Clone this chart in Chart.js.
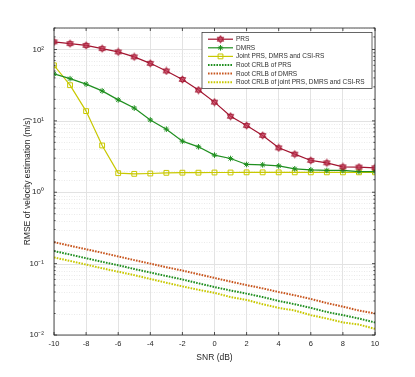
<!DOCTYPE html>
<html>
<head>
<meta charset="utf-8">
<script src="https://cdn.jsdelivr.net/npm/chart.js@4.4.1/dist/chart.umd.min.js"></script>
<style>
  html, body { margin: 0; padding: 0; background: #fff; }
  #wrap { width: 415px; height: 377px; }
</style>
</head>
<body>
<div id="wrap"><canvas id="chart" width="415" height="377"></canvas></div>
<script>
"use strict";

// SNR axis (dB)
const snr = [-10, -9, -8, -7, -6, -5, -4, -3, -2, -1, 0, 1, 2, 3, 4, 5, 6, 7, 8, 9, 10];

// RMSE of velocity estimation (m/s)
const prsRmse = [128, 121, 114, 103, 92.5, 78.8, 64, 50, 38, 27, 18.3, 11.6, 8.6, 6.25, 4.19, 3.42, 2.79, 2.58, 2.27, 2.25, 2.2];
const dmrsRmse = [45.5, 39, 32.7, 26.3, 19.7, 15.1, 10.3, 7.65, 5.2, 4.33, 3.31, 2.97, 2.45, 2.42, 2.34, 2.13, 2.06, 2.02, 2.02, 1.95, 1.95];
const jointRmse = [60, 31.6, 13.7, 4.52, 1.85, 1.81, 1.83, 1.87, 1.88, 1.88, 1.89, 1.89, 1.9, 1.9, 1.9, 1.9, 1.9, 1.9, 1.9, 1.9, 1.9];

// root CRLB curves
const crlbPrs = [0.150, 0.134, 0.119, 0.106, 0.095, 0.084, 0.075, 0.067, 0.060, 0.053, 0.047, 0.042, 0.038, 0.034, 0.030, 0.027, 0.024, 0.021, 0.019, 0.017, 0.015];
const crlbDmrs = [0.200, 0.178, 0.159, 0.142, 0.126, 0.112, 0.100, 0.089, 0.080, 0.071, 0.063, 0.056, 0.050, 0.045, 0.040, 0.036, 0.032, 0.028, 0.025, 0.022, 0.020];
const crlbJoint = [0.122, 0.109, 0.097, 0.086, 0.077, 0.069, 0.061, 0.054, 0.048, 0.043, 0.039, 0.034, 0.031, 0.027, 0.024, 0.022, 0.019, 0.017, 0.015, 0.014, 0.0122];

const seriesNames = [
  "PRS",
  "DMRS",
  "Joint PRS, DMRS and CSI-RS",
  "Root CRLB of PRS",
  "Root CRLB of DMRS",
  "Root CRLB of joint PRS, DMRS and CSI-RS"
];

const xTicks = [-10, -8, -6, -4, -2, 0, 2, 4, 6, 8, 10];
const yTickLabels = { 0.01: "10\u207B\u00B2", 0.1: "10\u207B\u00B9", 1: "10\u2070", 10: "10\u00B9", 100: "10\u00B2" };

const FONT = "'Liberation Sans', Arial, sans-serif";
const AXIS = "#262626";
const RED = "#A2142F";
const GREEN = "#1F8F1F";
const YELLOW = "#C8C800";
const ORANGE = "#C8561E";

// hexagram marker for PRS
function hexagram(size) {
  const c = document.createElement("canvas");
  c.width = size; c.height = size;
  const g = c.getContext("2d");
  const r = size / 2 - 0.8, cx = size / 2, cy = size / 2;
  g.strokeStyle = RED;
  g.fillStyle = "rgba(200, 60, 90, 0.45)";
  g.lineWidth = 0.9;
  [ -Math.PI / 2, Math.PI / 2 ].forEach(function (a0) {
    g.beginPath();
    for (let k = 0; k < 3; k++) {
      const a = a0 + k * 2 * Math.PI / 3;
      const px = cx + r * Math.cos(a), py = cy + r * Math.sin(a);
      if (k === 0) g.moveTo(px, py); else g.lineTo(px, py);
    }
    g.closePath();
    g.fill();
    g.stroke();
  });
  return c;
}
const hexMarker = hexagram(9);

function pts(arr) {
  return arr.map(function (v, i) { return { x: snr[i], y: v }; });
}

// grid, box, inward ticks and legend like the MATLAB axes
const axesBox = {
  id: "axesBox",
  beforeDatasetsDraw(chart) {
    const ctx = chart.ctx, a = chart.chartArea, y = chart.scales.y;
    ctx.save();
    y.ticks.forEach(function (t) {
      const py = Math.round(y.getPixelForValue(t.value)) + 0.5;
      const major = !!yTickLabels[t.value];
      ctx.beginPath();
      ctx.strokeStyle = major ? "#e2e2e2" : "#e4e4e4";
      ctx.lineWidth = major ? 1 : 0.8;
      ctx.setLineDash(major ? [] : [1, 1.5]);
      ctx.moveTo(a.left, py);
      ctx.lineTo(a.right, py);
      ctx.stroke();
    });
    ctx.restore();
  },
  afterDraw(chart) {
    const ctx = chart.ctx, a = chart.chartArea, x = chart.scales.x, y = chart.scales.y;
    ctx.save();
    ctx.strokeStyle = AXIS;
    ctx.lineWidth = 0.8;
    ctx.setLineDash([]);
    ctx.strokeRect(a.left, a.top, a.right - a.left, a.bottom - a.top);
    ctx.beginPath();
    xTicks.forEach(function (v) {
      const px = x.getPixelForValue(v);
      ctx.moveTo(px, a.bottom); ctx.lineTo(px, a.bottom - 3);
      ctx.moveTo(px, a.top); ctx.lineTo(px, a.top + 3);
    });
    y.ticks.forEach(function (t) {
      const py = y.getPixelForValue(t.value);
      const len = yTickLabels[t.value] ? 3 : 1.6;
      ctx.moveTo(a.left, py); ctx.lineTo(a.left + len, py);
      ctx.moveTo(a.right, py); ctx.lineTo(a.right - len, py);
    });
    ctx.stroke();

    // legend
    const bx = 202, by = 32.5, bw = 170, bh = 56;
    ctx.fillStyle = "#fff";
    ctx.fillRect(bx, by, bw, bh);
    ctx.strokeStyle = AXIS;
    ctx.lineWidth = 0.7;
    ctx.strokeRect(bx, by, bw, bh);
    // fit the longest entry to the width it takes in the figure
    ctx.font = "10px " + FONT;
    const longest = ctx.measureText(seriesNames[5]).width;
    const fs = Math.min(7.5, 10 * 129 / longest);
    ctx.font = fs + "px " + FONT;
    ctx.textBaseline = "middle";
    chart.data.datasets.forEach(function (ds, i) {
      const ry = 39.2 + i * 8.6;
      ctx.save();
      ctx.strokeStyle = ds.borderColor;
      ctx.lineWidth = ds.borderWidth;
      ctx.setLineDash(ds.borderDash || []);
      ctx.beginPath();
      ctx.moveTo(208, ry); ctx.lineTo(233, ry);
      ctx.stroke();
      ctx.restore();
      if (ds.pointRadius > 0) {
        ctx.save();
        ctx.strokeStyle = ds.pointBorderColor;
        ctx.fillStyle = ds.pointBackgroundColor;
        ctx.lineWidth = 1;
        Chart.helpers.drawPoint(ctx, {
          pointStyle: ds.pointStyle, radius: ds.pointRadius, borderWidth: 1, rotation: 0
        }, 220.5, ry);
        ctx.restore();
      }
      ctx.fillStyle = "#303030";
      ctx.fillText(ds.label, 236, ry + 0.3);
    });
    ctx.restore();
  }
};

const config = {
  type: "line",
  data: {
    datasets: [
      {
        label: seriesNames[0], data: pts(prsRmse),
        borderColor: RED, borderWidth: 1.2,
        pointStyle: hexMarker, pointRadius: 4,
        pointBorderColor: RED, pointBackgroundColor: "rgba(200,60,90,0.45)"
      },
      {
        label: seriesNames[1], data: pts(dmrsRmse),
        borderColor: GREEN, borderWidth: 1.2,
        pointStyle: "star", pointRadius: 2.8,
        pointBorderColor: GREEN, pointBackgroundColor: GREEN, pointBorderWidth: 1
      },
      {
        label: seriesNames[2], data: pts(jointRmse),
        borderColor: YELLOW, borderWidth: 1.2,
        pointStyle: "rect", pointRadius: 3.4,
        pointBorderColor: YELLOW, pointBackgroundColor: "rgba(255,255,255,0)", pointBorderWidth: 1
      },
      {
        label: seriesNames[3], data: pts(crlbPrs),
        borderColor: GREEN, borderWidth: 2, borderDash: [1.6, 1.2],
        pointRadius: 0
      },
      {
        label: seriesNames[4], data: pts(crlbDmrs),
        borderColor: ORANGE, borderWidth: 2, borderDash: [1.6, 1.2],
        pointRadius: 0
      },
      {
        label: seriesNames[5], data: pts(crlbJoint),
        borderColor: YELLOW, borderWidth: 2, borderDash: [1.6, 1.2],
        pointRadius: 0
      }
    ]
  },
  options: {
    responsive: false,
    animation: false,
    events: [],
    layout: { padding: { left: 23, right: 40, top: 28, bottom: 14 } },
    plugins: { legend: { display: false }, tooltip: { enabled: false } },
    scales: {
      x: {
        type: "linear", min: -10, max: 10,
        afterBuildTicks: function (s) { s.ticks = xTicks.map(function (v) { return { value: v }; }); },
        afterFit: function (s) { s.height = 28; },
        grid: { color: "#e3e3e3", lineWidth: 1, drawTicks: false },
        border: { display: false },
        ticks: { color: AXIS, font: { family: FONT, size: 7.5 }, padding: 4, maxRotation: 0, autoSkip: false },
        title: { display: true, text: "SNR (dB)", color: AXIS, font: { family: FONT, size: 8.5 }, padding: { top: 4, bottom: 0 } }
      },
      y: {
        type: "logarithmic", min: 0.01, max: 200,
        afterFit: function (s) { s.width = 31; },
        grid: { display: false },
        border: { display: false },
        ticks: {
          color: AXIS, font: { family: FONT, size: 8 }, padding: 2, autoSkip: false,
          callback: function (v) { return yTickLabels[v] || ""; }
        },
        title: { display: true, text: "RMSE of velocity estimation (m/s)", color: AXIS, font: { family: FONT, size: 8.5 }, padding: { top: 0, bottom: 4 } }
      }
    }
  },
  plugins: [axesBox]
};

const canvas = document.getElementById("chart");
new Chart(canvas.getContext("2d"), config);
</script>
</body>
</html>
